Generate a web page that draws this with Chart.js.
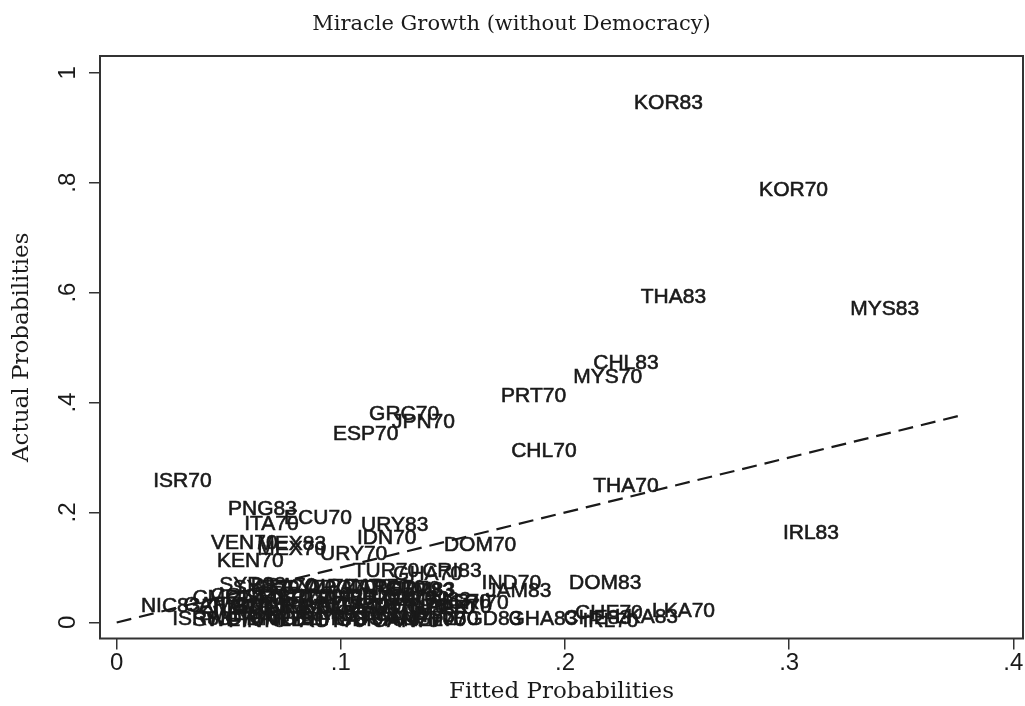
<!DOCTYPE html>
<html>
<head>
<meta charset="utf-8">
<script src="https://cdn.jsdelivr.net/npm/chart.js@4.4.1/dist/chart.umd.min.js"></script>
<style>
  html, body { margin: 0; padding: 0; background: #fff; }
  #wrap { width: 1025px; height: 706px; }
</style>
</head>
<body>
<div id="wrap"><canvas id="chart"></canvas></div>
<script>
// country-year codes, fitted and actual probabilities
const codes = [
  'KOR83', 'KOR70', 'THA83', 'MYS83', 'CHL83', 'MYS70', 'PRT70', 'GRC70', 'JPN70', 'ESP70',
  'CHL70', 'ISR70', 'THA70', 'PNG83', 'ECU70', 'ITA70', 'URY83', 'IDN70', 'VEN70', 'MEX83',
  'MEX70', 'DOM70', 'IRL83', 'URY70', 'KEN70', 'TUR70', 'GHA70', 'CRI83', 'IND70', 'JAM83',
  'DOM83', 'LKA70', 'LKA83', 'CHE70',
  // dense cluster near the origin
  'SYR83', 'SYR70', 'BRA70', 'EGY70', 'COL70', 'ARG70', 'PAN70', 'ZAR70', 'TTO70', 'PER70',
  'GTM83', 'TUR83',
  'CMR70', 'COL83', 'CIV70', 'SEN70', 'MAR70', 'BOL70', 'TUN70', 'SLV70', 'HND70', 'PRY70',
  'NGA70', 'MWI70', 'ECU83', 'SLE70', 'CRI70',
  'NIC83', 'CAF70', 'ZMB70', 'TGO70', 'SDN70', 'MLI70', 'NER70', 'RWA70', 'BDI70', 'UGA70',
  'TZA70', 'ETH70', 'MDG70', 'HTI70', 'NPL70', 'PAK70',
  'SWE83', 'NOR83', 'FIN83', 'DNK83', 'NLD83', 'BEL83', 'AUT83',
  'ISR83', 'SWE70', 'NOR70', 'FIN70', 'DNK70', 'NLD70', 'BEL70', 'AUT70', 'FRA70', 'GBR70',
  'USA70', 'CAN70', 'AUS70', 'NZL70', 'PHL70', 'BGD83', 'GHA83', 'CHE83', 'IRL70'
];
const fittedProb = [
  0.229, 0.2848, 0.232, 0.3255, 0.2108, 0.2019, 0.1697, 0.1108, 0.121, 0.0947,
  0.1742, 0.0145, 0.2108, 0.0479, 0.0729, 0.0551, 0.1072, 0.1054, 0.0403, 0.0609,
  0.0609, 0.1442, 0.2954, 0.0889, 0.043, 0.1035, 0.1215, 0.1345, 0.161, 0.163,
  0.200, 0.237, 0.2205, 0.2027,
  0.044, 0.050, 0.058, 0.066, 0.075, 0.083, 0.092, 0.100, 0.107, 0.113,
  0.118, 0.119,
  0.032, 0.040, 0.047, 0.055, 0.062, 0.070, 0.078, 0.086, 0.094, 0.102,
  0.110, 0.117, 0.126, 0.137, 0.1465,
  0.009, 0.028, 0.036, 0.043, 0.051, 0.058, 0.066, 0.073, 0.081, 0.089,
  0.097, 0.105, 0.113, 0.121, 0.129, 0.137,
  0.035, 0.050, 0.065, 0.080, 0.095, 0.108, 0.120,
  0.023, 0.032, 0.040, 0.048, 0.056, 0.064, 0.072, 0.080, 0.088, 0.096,
  0.104, 0.112, 0.119, 0.126, 0.131, 0.148, 0.173, 0.1975, 0.206
];
const actualProb = [
  0.944, 0.7855, 0.592, 0.570, 0.472, 0.4465, 0.412, 0.379, 0.3645, 0.3426,
  0.3116, 0.257, 0.248, 0.206, 0.190, 0.1786, 0.177, 0.153, 0.144, 0.142,
  0.133, 0.140, 0.162, 0.124, 0.111, 0.093, 0.0875, 0.093, 0.071, 0.0565,
  0.071, 0.020, 0.009, 0.0164,
  0.067, 0.062, 0.066, 0.063, 0.064, 0.062, 0.065, 0.064, 0.062, 0.060,
  0.058, 0.057,
  0.045, 0.047, 0.043, 0.046, 0.044, 0.046, 0.043, 0.045, 0.044, 0.046,
  0.043, 0.042, 0.040, 0.036, 0.035,
  0.029, 0.032, 0.028, 0.031, 0.027, 0.030, 0.028, 0.031, 0.027, 0.030,
  0.028, 0.029, 0.027, 0.029, 0.026, 0.028,
  0.015, 0.016, 0.014, 0.016, 0.013, 0.015, 0.012,
  0.005, 0.004, 0.006, 0.003, 0.005, 0.004, 0.006, 0.003, 0.005, 0.004,
  0.006, 0.003, 0.005, 0.004, 0.005, 0.006, 0.006, 0.007, 0.002
];

// 45 degree reference line (dashed)
const diagX = [0, 0.378];

const xTicks = [0, 0.1, 0.2, 0.3, 0.4];
const xTickLabels = ['0', '.1', '.2', '.3', '.4'];
const yTicks = [0, 0.2, 0.4, 0.6, 0.8, 1];
const yTickLabels = ['0', '.2', '.4', '.6', '.8', '1'];

const INK = '#1a1a1a';
const SANS = "'Liberation Sans', Arial, sans-serif";
const SERIF = "'DejaVu Serif', serif";

const pontos = codes.map((c, i) => ({ x: fittedProb[i], y: actualProb[i] }));
const diagonal = diagX.map(v => ({ x: v, y: v }));

// desenha os rótulos (mlabel) à direita de cada ponto invisível
const rotulosPlugin = {
    id: 'rotulos',
    afterDatasetsDraw(chart) {
        const ctx = chart.ctx;
        const meta = chart.getDatasetMeta(0);
        ctx.save();
        ctx.font = `21px ${SANS}`;
        ctx.fillStyle = INK;
        ctx.strokeStyle = INK;
        ctx.lineWidth = 0.6;
        ctx.textAlign = 'left';
        ctx.textBaseline = 'middle';
        meta.data.forEach((pt, i) => {
            ctx.fillText(codes[i], pt.x + 4, pt.y);
            ctx.strokeText(codes[i], pt.x + 4, pt.y);
        });
        ctx.restore();
    },
    afterDraw(chart) {
        const ctx = chart.ctx;
        const a = chart.chartArea;
        const ys = chart.scales.y;
        ctx.save();
        // moldura da região do gráfico
        ctx.strokeStyle = '#333';
        ctx.lineWidth = 2;
        ctx.strokeRect(a.left, a.top, a.right - a.left, a.bottom - a.top);
        // rótulos do eixo y, verticais como no Stata
        ctx.font = `24px ${SANS}`;
        ctx.fillStyle = INK;
        ctx.textAlign = 'center';
        ctx.textBaseline = 'middle';
        yTicks.forEach((v, i) => {
            ctx.save();
            ctx.translate(a.left - 32, ys.getPixelForValue(v));
            ctx.rotate(-Math.PI / 2);
            ctx.fillText(yTickLabels[i], 0, 0);
            ctx.restore();
        });
        ctx.restore();
    }
};

// sem folga extra para os rótulos das pontas
const semFolga = s => { s.paddingLeft = 0; s.paddingRight = 0; s.paddingTop = 0; s.paddingBottom = 0; };

new Chart(document.getElementById('chart'), {
    type: 'scatter',
    data: {
        datasets: [
            {
                label: 'labels',
                data: pontos,
                pointRadius: 0,
                pointHoverRadius: 0
            },
            {
                type: 'line',
                label: 'diag',
                data: diagonal,
                borderColor: INK,
                borderWidth: 2.2,
                borderDash: [15, 8],
                pointRadius: 0,
                fill: false
            }
        ]
    },
    options: {
        responsive: true,
        maintainAspectRatio: false,
        animation: false,
        events: [],
        layout: { padding: { left: 0, right: 2, top: 0, bottom: 0 } },
        plugins: {
            legend: { display: false },
            tooltip: { enabled: false },
            title: {
                display: true,
                text: 'Miracle Growth (without Democracy)',
                color: INK,
                font: { family: SERIF, size: 21, weight: 'normal', lineHeight: 1.2 },
                padding: { top: 12.4, bottom: 18.4 }
            }
        },
        scales: {
            x: {
                type: 'linear',
                min: -0.00745,
                max: 0.4043,
                afterBuildTicks: s => { s.ticks = xTicks.map(v => ({ value: v })); },
                afterFit: semFolga,
                border: { display: false },
                grid: { drawOnChartArea: false, drawTicks: true, tickLength: 11, color: '#333', lineWidth: 1.5 },
                ticks: {
                    color: INK,
                    font: { family: SANS, size: 24, lineHeight: 1 },
                    padding: 2,
                    maxRotation: 0,
                    callback: (v, i) => xTickLabels[i]
                },
                title: {
                    display: true,
                    text: 'Fitted Probabilities',
                    color: INK,
                    font: { family: SERIF, size: 23, lineHeight: 1 },
                    padding: { top: 3.5, bottom: 2 }
                }
            },
            y: {
                type: 'linear',
                min: -0.0292,
                max: 1.0304,
                afterBuildTicks: s => { s.ticks = yTicks.map(v => ({ value: v })); },
                afterFit: semFolga,
                border: { display: false },
                grid: { drawOnChartArea: false, drawTicks: true, tickLength: 11, color: '#333', lineWidth: 1.5 },
                ticks: { display: false },
                title: {
                    display: true,
                    text: 'Actual Probabilities',
                    color: INK,
                    font: { family: SERIF, size: 23, lineHeight: 1 },
                    padding: { top: 10.5, bottom: 55.5 }
                }
            }
        }
    },
    plugins: [rotulosPlugin]
});
</script>
</body>
</html>
